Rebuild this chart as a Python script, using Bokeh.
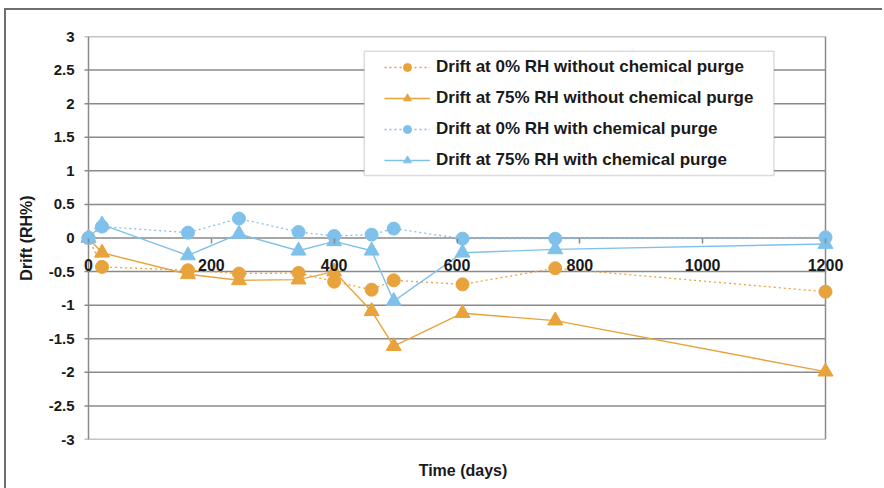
from bokeh.plotting import figure
from bokeh.models import (Range1d, FixedTicker, Legend, LegendItem, LinearAxis,
                          NumeralTickFormatter, BoxAnnotation)
from bokeh.embed import file_html
from bokeh.resources import INLINE

# ---- data ----
days = [0, 22, 162, 245, 342, 400, 461, 497, 609, 760, 1200]
drift_0rh_without = [0, -0.43, -0.48, -0.53, -0.52, -0.65, -0.77, -0.63, -0.69, -0.45, -0.80]
drift_75rh_without = [0, -0.22, -0.54, -0.63, -0.62, -0.50, -1.09, -1.61, -1.12, -1.23, -1.99]
drift_0rh_with = [0, 0.17, 0.08, 0.29, 0.09, 0.03, 0.05, 0.14, -0.01, -0.01, 0.01]
drift_75rh_with = [0, 0.20, -0.26, 0.06, -0.19, -0.05, -0.19, -0.94, -0.22, -0.17, -0.09]

series_labels = [
    "Drift at 0% RH without chemical purge",
    "Drift at 75% RH without chemical purge",
    "Drift at 0% RH with chemical purge",
    "Drift at 75% RH with chemical purge",
]

x_ticks = [0, 200, 400, 600, 800, 1000, 1200]
y_ticks = [-3.0, -2.5, -2.0, -1.5, -1.0, -0.5, 0.0, 0.5, 1.0, 1.5, 2.0, 2.5, 3.0]
y_tick_labels = ["-3", "-2.5", "-2", "-1.5", "-1", "-0.5", "0", "0.5", "1", "1.5", "2", "2.5", "3"]

x_title = "Time (days)"
y_title = "Drift (RH%)"

X_MIN, X_MAX = 0, 1200
Y_MIN, Y_MAX = -3, 3
PX_PER_DAY = 737 / 1200
PAD_L = 8 / PX_PER_DAY        # room so markers at x=0 are not cut
PAD_R = 20 / PX_PER_DAY       # room for the "1200" label
TICK_OUT = 4 / PX_PER_DAY     # grid lines reach 4px left of the y axis

ORANGE = "#E8A33C"
BLUE = "#80C1EB"
GRID = "#8a8a8a"
TEXT = "#1a1a1a"
FONT = "Liberation Sans"

p = figure(
    frame_width=765, frame_height=403,
    x_range=Range1d(X_MIN - PAD_L, X_MAX + PAD_R),
    y_range=Range1d(Y_MIN, Y_MAX),
    output_backend="svg", toolbar_location=None,
    min_border_left=74, min_border_right=37,
    min_border_top=26, min_border_bottom=49,
    background_fill_color="white", border_fill_color="white",
)
p.outline_line_color = None
p.xgrid.visible = False
p.ygrid.visible = False
p.styles = {"border-left": "2px solid #6e6e6e", "border-top": "2px solid #6e6e6e",
            "margin-left": "4px", "margin-top": "8px"}

# horizontal grid lines (with their outside tick stubs), y axis line, right edge
n = len(y_ticks)
p.segment(x0=[X_MIN - TICK_OUT] * n, x1=[X_MAX] * n, y0=y_ticks, y1=y_ticks,
          line_color=GRID, line_width=1.5)
p.segment(x0=[X_MIN, X_MAX], x1=[X_MIN, X_MAX], y0=[Y_MIN, Y_MIN], y1=[Y_MAX, Y_MAX],
          line_color=GRID, line_width=1.5)

# x axis drawn at y = 0
xa = p.xaxis[0]
xa.fixed_location = 0
xa.bounds = (X_MIN, X_MAX)
xa.ticker = FixedTicker(ticks=x_ticks)
xa.axis_line_color = None
xa.major_tick_line_color = GRID
xa.major_tick_line_width = 1.5
xa.major_tick_out = 5
xa.major_tick_in = 0
xa.minor_tick_line_color = None
xa.major_label_text_font = FONT
xa.major_label_text_font_style = "bold"
xa.major_label_text_font_size = "16px"
xa.major_label_text_color = TEXT
xa.major_label_standoff = 16

# axis that only carries the x title
xt = LinearAxis(ticker=FixedTicker(ticks=[]), axis_label=x_title)
xt.axis_line_color = None
xt.major_tick_line_color = None
xt.minor_tick_line_color = None
xt.major_label_text_font_size = "0px"
xt.axis_label_text_font = FONT
xt.axis_label_text_font_style = "bold"
xt.axis_label_text_font_size = "16px"
xt.axis_label_text_color = TEXT
xt.axis_label_standoff = 22
p.add_layout(xt, "below")

# y axis: labels only (line and ticks come from the grid segments)
ya = p.yaxis[0]
ya.ticker = FixedTicker(ticks=y_ticks)
ya.formatter = NumeralTickFormatter(format="0.[0]")
ya.major_label_overrides = dict(zip(y_ticks, y_tick_labels))
ya.axis_line_color = None
ya.major_tick_line_color = None
ya.major_tick_out = 0
ya.major_tick_in = 0
ya.minor_tick_line_color = None
ya.major_label_text_font = FONT
ya.major_label_text_font_style = "bold"
ya.major_label_text_font_size = "15px"
ya.major_label_text_color = TEXT
ya.major_label_standoff = 6
ya.axis_label = y_title
ya.axis_label_text_font = FONT
ya.axis_label_text_font_style = "bold"
ya.axis_label_text_font_size = "16px"
ya.axis_label_text_color = TEXT
ya.axis_label_standoff = 11

# legend box (drawn behind the legend entries)
p.add_layout(BoxAnnotation(left=449, right=1116, top=2.78, bottom=0.93,
                           fill_color="white", fill_alpha=1.0,
                           line_color=GRID, line_width=1.5))

# series
r1l = p.line(days, drift_0rh_without, line_color=ORANGE, line_dash="2 3", line_width=1.3)
r1s = p.scatter(days, drift_0rh_without, marker="circle", size=13, color=ORANGE)
r2l = p.line(days, drift_75rh_without, line_color=ORANGE, line_width=1.4)
r2s = p.scatter(days, drift_75rh_without, marker="triangle", size=15, color=ORANGE)
r3l = p.line(days, drift_0rh_with, line_color=BLUE, line_dash="2 3", line_width=1.3)
r3s = p.scatter(days, drift_0rh_with, marker="circle", size=13, color=BLUE)
r4l = p.line(days, drift_75rh_with, line_color=BLUE, line_width=1.4)
r4s = p.scatter(days, drift_75rh_with, marker="triangle", size=15, color=BLUE)

legend = Legend(
    items=[
        LegendItem(label=series_labels[0], renderers=[r1l, r1s]),
        LegendItem(label=series_labels[1], renderers=[r2l, r2s]),
        LegendItem(label=series_labels[2], renderers=[r3l, r3s]),
        LegendItem(label=series_labels[3], renderers=[r4l, r4s]),
    ],
    location=(304, 269),
)
legend.border_line_color = None
legend.background_fill_alpha = 0.0
legend.padding = 6
legend.margin = 0
legend.spacing = 11
legend.glyph_width = 46
legend.glyph_height = 20
legend.label_height = 20
legend.label_standoff = 6
legend.label_text_font = FONT
legend.label_text_font_style = "bold"
legend.label_text_font_size = "17px"
legend.label_text_color = TEXT
p.add_layout(legend)

open("out.html", "w").write(file_html(p, INLINE))
